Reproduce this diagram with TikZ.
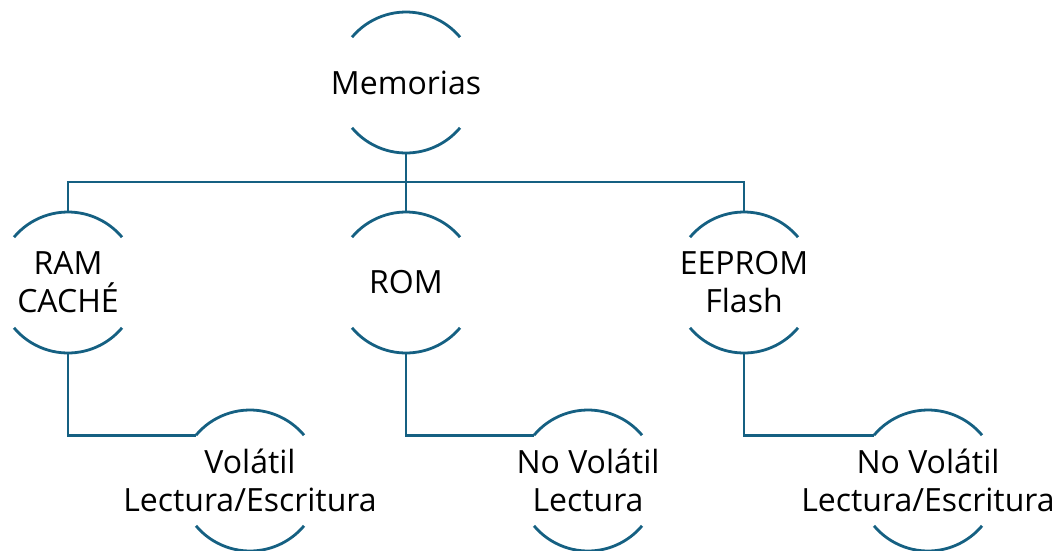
\documentclass[tikz,border=0pt]{standalone}
\usepackage{fontspec}
\setmainfont{Open Sans}
\usepackage{xcolor}
\usepackage{tikz}
\usetikzlibrary{positioning}

\definecolor{arcblue}{HTML}{156082}
\newcommand{\rr}{70.5pt}

\begin{document}
\begin{tikzpicture}[on grid, node distance=200pt and 338pt,
  every node/.style={font=\fontsize{32}{38}\selectfont,align=center,inner sep=0pt},
  link/.style={draw=arcblue,line width=2.8pt}]
  \useasboundingbox (0,0) rectangle (1058pt,-550pt);
  \node (mem) at (406pt,-82.5pt) {Memorias};
  \node (rom) [below=of mem] {ROM};
  \node (ram) [left=of rom] {RAM\\CACHÉ};
  \node (eep) [right=of rom] {EEPROM\\Flash};
  \node (vol) [below right=198pt and 182pt of ram] {Volátil\\Lectura/Escritura};
  \node (nvl) [below right=198pt and 182pt of rom] {No Volátil\\Lectura};
  \node (nve) [below right=198pt and 184pt of eep] {No Volátil\\Lectura/Escritura};
  % arcs above and below each text
  \foreach \n in {mem,ram,rom,eep,vol,nvl,nve}{
    \draw[link] ([shift={(140:\rr)}]\n.center) arc[start angle=140,end angle=40,radius=\rr];
    \draw[link] ([shift={(220:\rr)}]\n.center) arc[start angle=220,end angle=320,radius=\rr];
  }
  % tree lines
  \draw[link] ([yshift=-\rr]mem.center) -- ([yshift=\rr]rom.center);
  \draw[link] ([yshift=\rr]ram.center) -- ++(0,30pt) -| ([yshift=\rr]eep.center);
  \draw[link] ([yshift=-\rr]ram.center) |- ([shift={(140:\rr)}]vol.center);
  \draw[link] ([yshift=-\rr]rom.center) |- ([shift={(140:\rr)}]nvl.center);
  \draw[link] ([yshift=-\rr]eep.center) |- ([shift={(140:\rr)}]nve.center);
\end{tikzpicture}
\end{document}
